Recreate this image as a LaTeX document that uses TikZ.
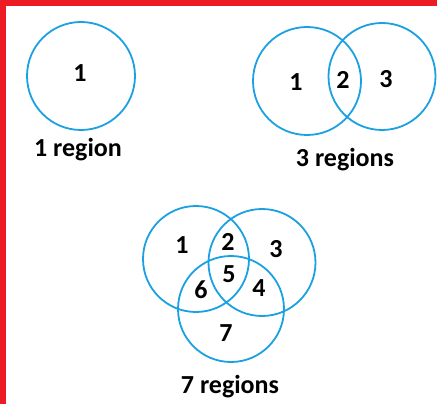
\documentclass[tikz,border=0pt]{standalone}
\usepackage{fontspec}
\setmainfont{Carlito}
\definecolor{ringblue}{RGB}{27,161,226}
\definecolor{framered}{RGB}{237,28,36}
\begin{document}
\begin{tikzpicture}[x=1pt,y=-1pt,
  ring/.style={draw=ringblue,line width=1.8pt,circle,inner sep=0pt},
  num/.style={font=\fontsize{26}{30}\selectfont\bfseries,inner sep=0pt},
  captext/.style={font=\fontsize{26}{30}\selectfont\bfseries,inner sep=0pt,anchor=base}]
\useasboundingbox (0,0) rectangle (437,404);
\fill[white] (0,0) rectangle (437,404);
\fill[framered] (0,0) rectangle (6,404);
\fill[framered] (0,0) rectangle (437,6);
% one circle
\node[ring,minimum size=108pt] (a) at (81,76) {};
\node[num] (a1) at (80,73.5) {1};
\node[captext] (acap) at (78,157) {1 region};
% two circles
\node[ring,minimum size=108pt] (b) at (307,81) {};
\node[ring,minimum size=107pt] (c) at (382,76.5) {};
\node[num] (b1) at (296,82) {1};
\node[num] (b2) at (343,80) {2};
\node[num] (b3) at (386,79) {3};
\node[captext] (bcap) at (345,167) {3 regions};
% three circles
\node[ring,minimum size=106pt] (d) at (196,259) {};
\node[ring,minimum size=107pt] (e) at (262,262.5) {};
\node[ring,minimum size=106pt] (f) at (231,309) {};
\node[num] (d1) at (182,245) {1};
\node[num] (d2) at (228,242) {2};
\node[num] (d3) at (276,249) {3};
\node[num] (d5) at (229,274) {5};
\node[num] (d6) at (201,290) {6};
\node[num] (d4) at (259,288) {4};
\node[num] (d7) at (226,333) {7};
\node[captext] (dcap) at (230,393) {7 regions};
\end{tikzpicture}
\end{document}
